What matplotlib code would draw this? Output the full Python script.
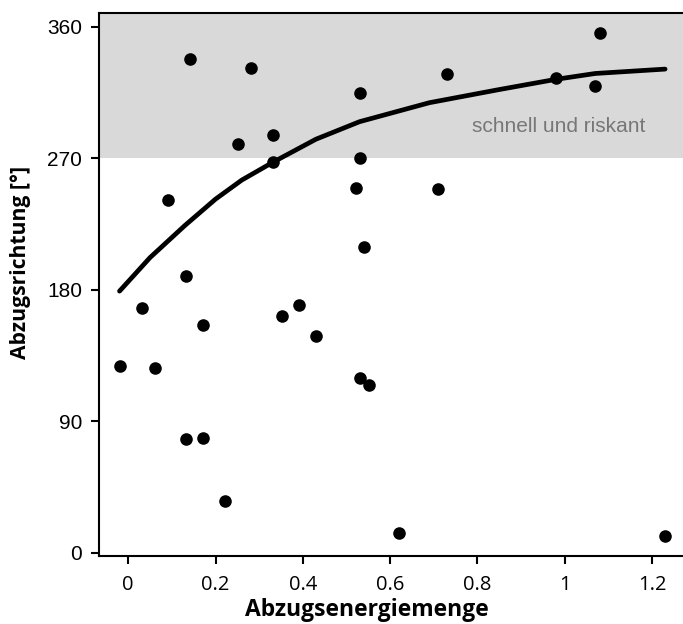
# -*- coding: utf-8 -*-
import matplotlib
matplotlib.use("Agg")
import matplotlib.pyplot as plt

# Daten
energie = [-0.019, 0.031, 0.061, 0.092, 0.132, 0.132, 0.141, 0.171, 0.171, 0.221,
           0.251, 0.281, 0.331, 0.331, 0.352, 0.391, 0.431, 0.521, 0.531, 0.531,
           0.531, 0.541, 0.551, 0.621, 0.710, 0.731, 0.980, 1.070, 1.081, 1.230]
richtung = [127.6, 167.7, 126.6, 241.4, 189.6, 77.6, 337.7, 155.6, 78.5, 35.6,
            279.7, 331.7, 285.7, 267.6, 161.8, 169.7, 148.5, 249.6, 314.8, 269.9,
            119.6, 209.4, 114.6, 13.7, 248.9, 327.6, 324.7, 319.6, 355.5, 11.4]

# Glättungskurve
kurve_x = [-0.02, 0.05, 0.13, 0.2, 0.26, 0.33, 0.43, 0.53, 0.69, 0.85, 0.98, 1.07, 1.23]
kurve_y = [179, 202, 224, 242, 255, 267, 283, 295, 308, 317, 324, 328, 331]

y_ticks = [0, 90, 180, 270, 360]
x_ticks = [0, 0.2, 0.4, 0.6, 0.8, 1.0, 1.2]
x_labels = ["0", "0.2", "0.4", "0.6", "0.8", "1", "1.2"]

fig = plt.figure(figsize=(6.83, 6.24), dpi=100)
ax = fig.add_axes([99 / 683, 68 / 624, 584 / 683, 543 / 624])

ax.set_xlim(-0.067, 1.271)
ax.set_ylim(-2.3, 369.4)

# Bereich "schnell und riskant"
ax.axhspan(270, 369.4, color="#d9d9d9", lw=0, zorder=0)
ax.text(0.987, 291.6, "schnell und riskant", color="#777777", fontsize=15,
        family="Liberation Sans", ha="center", va="center")

ax.plot(kurve_x, kurve_y, color="black", lw=3.4, solid_capstyle="round",
        solid_joinstyle="round", zorder=2)
ax.scatter(energie, richtung, s=82, color="black", lw=0, zorder=3)

ax.spines["right"].set_visible(False)
for s in ["left", "top", "bottom"]:
    ax.spines[s].set_linewidth(1.5)

ax.set_yticks(y_ticks)
ax.set_yticklabels([str(v) for v in y_ticks], family="Liberation Sans", fontsize=15)
ax.set_xticks(x_ticks)
ax.set_xticklabels(x_labels, family="Open Sans", fontsize=14.5)
ax.tick_params(axis="both", direction="out", length=6, width=1.5, pad=6)
ax.tick_params(axis="x", pad=8)

ax.set_xlabel("Abzugsenergiemenge", family="Open Sans", fontweight="bold",
              fontsize=16.5)
ax.xaxis.set_label_coords(0.459, -0.1, transform=ax.transAxes)
ax.xaxis.label.set_va("center")
ax.set_ylabel("Abzugsrichtung [°]", family="Open Sans", fontweight="bold",
              fontsize=15.2)
ax.yaxis.set_label_coords(-0.135, 0.54, transform=ax.transAxes)
ax.yaxis.label.set_va("center")

plt.savefig("out.png", dpi=100)
